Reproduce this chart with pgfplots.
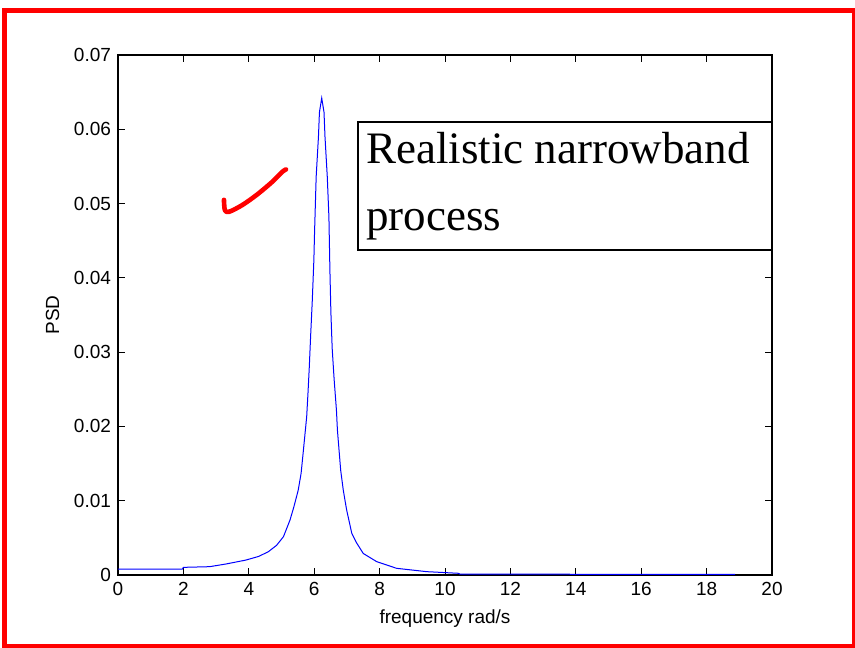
\documentclass[border=0pt]{standalone}
\usepackage{pgfplots}
\pgfplotsset{compat=1.18}
\usepackage{fontspec}
\setmainfont{Liberation Sans}
\newfontfamily\timesfont{Liberation Serif}
\begin{document}
\begin{tikzpicture}
\useasboundingbox (-59pt,-36pt) rectangle (368.5pt,287.5pt);
\begin{axis}[at={(0,0)}, anchor=south west, scale only axis,
  width=327pt, height=260pt,
  xmin=0, xmax=20, ymin=0, ymax=0.07,
  xtick={0,2,4,6,8,10,12,14,16,18,20},
  ytick={0,0.01,0.02,0.03,0.04,0.05,0.06,0.07},
  yticklabels={0,0.01,0.02,0.03,0.04,0.05,0.06,0.07},
  scaled y ticks=false,
  tick align=inside, major tick length=3.3pt,
  axis line style={line width=0.6pt},
  every tick/.style={black, line width=0.5pt},
  font=\fontsize{9.5}{11}\selectfont,
  /pgf/number format/assume math mode=true,
  xlabel={frequency rad/s}, ylabel={PSD},
  xlabel style={at={(axis description cs:0.5,-0.0942)}, anchor=base},
  ylabel style={at={(axis description cs:-0.0902,0.5)}, anchor=base},
  clip=false]
\addplot[color={rgb,1:red,0;green,0;blue,1}, line width=0.5pt] coordinates {
(0,0.00080) (1.97,0.00080) (2.0,0.00103) (2.8,0.00112) (3.3,0.00148)
(3.9,0.00200) (4.3,0.00250) (4.6,0.00314) (4.85,0.0040) (5.06,0.00516)
(5.26,0.0074) (5.38,0.0092) (5.51,0.0114) (5.60,0.0137) (5.67,0.0168)
(5.77,0.0213) (5.81,0.0245) (5.85,0.0280) (5.89,0.0321) (5.94,0.0368)
(5.99,0.0424) (6.01,0.0460) (6.06,0.0536) (6.13,0.0590) (6.16,0.0623)
(6.23,0.0642) (6.30,0.0623) (6.33,0.0590) (6.40,0.0536) (6.45,0.0482)
(6.48,0.0411) (6.51,0.0354) (6.55,0.0305) (6.61,0.0263) (6.68,0.0222)
(6.71,0.0195) (6.76,0.0168) (6.81,0.0141) (6.89,0.0114) (6.99,0.0088)
(7.15,0.0056) (7.30,0.0043) (7.50,0.0029) (7.91,0.0018) (8.52,0.0009)
(9.44,0.00045) (10.41,0.00023) (10.45,0.00013) (14,0.00010) (18.87,0.00008)
};
\addplot[red, line width=2.3pt, smooth, line cap=round, line join=round] coordinates {
(3.24,0.0505) (3.27,0.0491) (3.40,0.0489) (3.80,0.0498) (4.25,0.0512) (4.71,0.0529) (5.03,0.0543) (5.14,0.0546)
};
\draw[line width=1pt, fill=white] (rel axis cs:0.367,0.625) rectangle (rel axis cs:1,0.871);
\node[anchor=base west, inner sep=0pt, font=\timesfont\fontsize{22.5}{27}\selectfont] at (rel axis cs:0.379,0.792) {Realistic narrowband};
\node[anchor=base west, inner sep=0pt, font=\timesfont\fontsize{22.5}{27}\selectfont] at (rel axis cs:0.379,0.663) {process};
\end{axis}
\draw[red, line width=2.6pt] (-56.75pt,-35.9pt) rectangle (368.15pt,282.1pt);
\end{tikzpicture}
\end{document}
